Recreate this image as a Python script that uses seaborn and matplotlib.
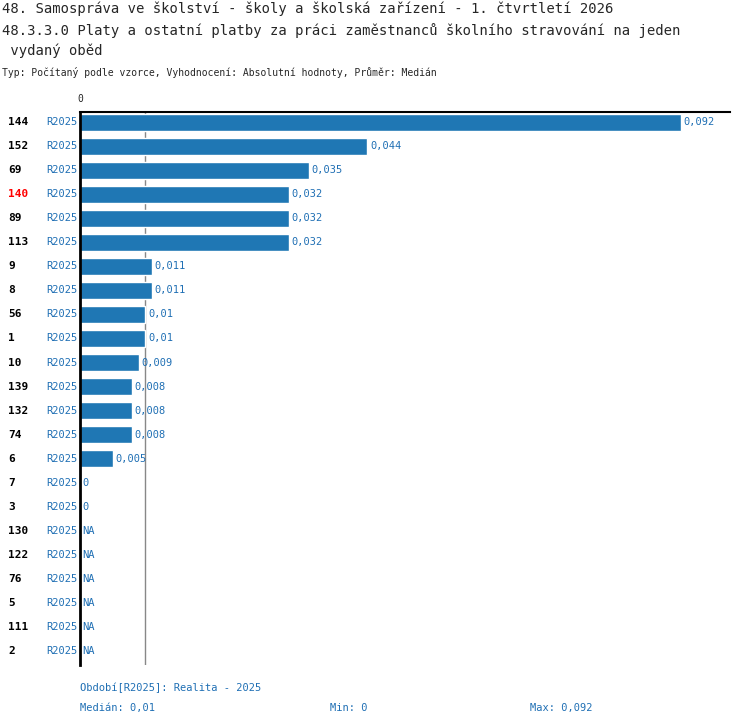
import numpy as np
import pandas as pd
import matplotlib
matplotlib.use("Agg")
import matplotlib.pyplot as plt
import seaborn as sns

codes = ["144", "152", "69", "140", "89", "113", "9", "8", "56", "1", "10", "139",
         "132", "74", "6", "7", "3", "130", "122", "76", "5", "111", "2"]
values = [0.092, 0.044, 0.035, 0.032, 0.032, 0.032, 0.011, 0.011, 0.01, 0.01, 0.009,
          0.008, 0.008, 0.008, 0.005, 0, 0, None, None, None, None, None, None]
labels = ["0,092", "0,044", "0,035", "0,032", "0,032", "0,032", "0,011", "0,011", "0,01",
          "0,01", "0,009", "0,008", "0,008", "0,008", "0,005", "0", "0",
          "NA", "NA", "NA", "NA", "NA", "NA"]
highlight = "140"
median = 0.01

sns.set_style("white")
plt.rcParams['font.family'] = ['DejaVu Sans Mono']
blue = "#1f77b4"
tblue = "#1f6fb4"

df = pd.DataFrame({"code": codes, "value": [v if v is not None else np.nan for v in values]})
df["pos"] = range(len(df))

fig = plt.figure(figsize=(7.5, 7.26), dpi=100)
ax = fig.add_axes([80 / 750, 1 - 665 / 726, 650 / 750, (665 - 112) / 726])
sns.barplot(data=df, x="value", y="pos", orient="h", order=list(range(len(df))),
            color=blue, saturation=1, width=0.7, ax=ax)
n = len(df)
ax.set_xlim(0, 0.092 * 650 / 601)
ax.set_ylim(n - 1 + 0.58, -0.42)
ax.axvline(median, color="#888888", lw=1, zorder=0)
for s in ["right", "bottom"]:
    ax.spines[s].set_visible(False)
ax.spines["left"].set_linewidth(2)
ax.spines["top"].set_linewidth(1.5)
ax.spines["left"].set_color("black")
ax.spines["top"].set_color("black")
ax.set_xticks([])
ax.set_yticks([])
ax.set_xlabel("")
ax.set_ylabel("")
ax.text(0, -0.75, "0", fontsize=7, ha="center", va="bottom")

for i, (c, v, l) in enumerate(zip(codes, values, labels)):
    x = v if v is not None else 0
    ax.text(x + 0.0004, i, l, color=tblue, fontsize=7.5, va="center")
    ax.text(-72 / 650, i, c, color="red" if c == highlight else "black", fontsize=8,
            fontweight="bold", va="center", transform=ax.get_yaxis_transform())
    ax.text(-34 / 650, i, "R2025", color=tblue, fontsize=7.5, va="center",
            transform=ax.get_yaxis_transform())

fig.text(2 / 750, 1 - 9 / 726, "48. Samospráva ve školství - školy a školská zařízení - 1. čtvrtletí 2026",
         fontsize=10, va="center")
fig.text(2 / 750, 1 - 31 / 726, "48.3.3.0 Platy a ostatní platby za práci zaměstnanců školního stravování na jeden",
         fontsize=10, va="center")
fig.text(2 / 750, 1 - 51 / 726, " vydaný oběd", fontsize=10, va="center")
fig.text(2 / 750, 1 - 73 / 726, "Typ: Počítaný podle vzorce, Vyhodnocení: Absolutní hodnoty, Průměr: Medián",
         fontsize=7, va="center")
fig.text(80 / 750, 1 - 688 / 726, "Období[R2025]: Realita - 2025", fontsize=7.5, color=tblue, va="center")
fig.text(80 / 750, 1 - 708 / 726, "Medián: 0,01", fontsize=7.5, color=tblue, va="center")
fig.text(330 / 750, 1 - 708 / 726, "Min: 0", fontsize=7.5, color=tblue, va="center")
fig.text(530 / 750, 1 - 708 / 726, "Max: 0,092", fontsize=7.5, color=tblue, va="center")

fig.savefig("out.png", dpi=100)
